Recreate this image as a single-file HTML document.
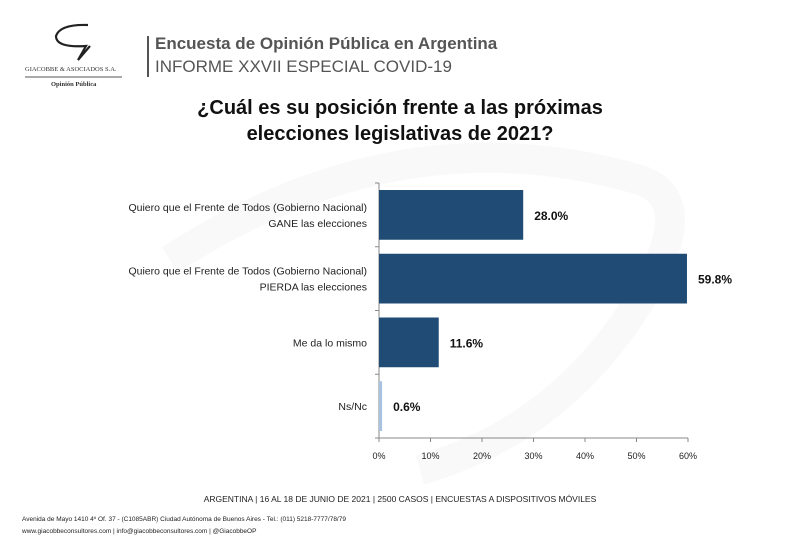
<!DOCTYPE html>
<html><head><meta charset="utf-8"><style>
body{margin:0;width:800px;height:553px;background:#fff;overflow:hidden;font-family:"Liberation Sans",sans-serif;position:relative}
.t{position:absolute;white-space:nowrap}
</style></head><body>
<svg width="800" height="553" style="position:absolute;left:0;top:0">
<path d="M170 260 Q400 110 640 180 Q700 200 640 300 Q560 430 420 470" fill="none" stroke="#f9f9f9" stroke-width="30"/>
</svg>
<svg width="130" height="100" style="position:absolute;left:20px;top:18px">
<path d="M68 7 Q40 6 36 18 Q36 30 66 28 L58 42 L70 28" fill="none" stroke="#222" stroke-width="2.2"/>
<line x1="5" y1="59" x2="102" y2="59" stroke="#555"/>
</svg>
<div class="t" style="left:25px;top:66px;font-family:'Liberation Serif',serif;font-size:6.5px;color:#333">GIACOBBE &amp; ASOCIADOS S.A.</div>
<div class="t" style="left:51px;top:81px;font-family:'Liberation Serif',serif;font-size:6.5px;font-weight:bold;color:#333">Opinión Pública</div>
<div style="position:absolute;left:147px;top:36px;width:2px;height:41px;background:#555"></div>
<div class="t" style="left:155px;top:34px;font-size:17px;font-weight:bold;color:#555">Encuesta de Opinión Pública en Argentina</div>
<div class="t" style="left:155px;top:57px;font-size:17px;color:#555">INFORME XXVII ESPECIAL COVID-19</div>
<div class="t" style="left:190px;top:95px;width:420px;text-align:center;font-size:20px;font-weight:bold;color:#111;line-height:26px">¿Cuál es su posición frente a las próximas<br>elecciones legislativas de 2021?</div>
<svg id="chart" width="800" height="553" style="position:absolute;left:0;top:0"></svg>
<div class="t" style="left:0;top:494px;width:800px;text-align:center;font-size:8.5px;color:#222">ARGENTINA | 16 AL 18 DE JUNIO DE 2021 | 2500 CASOS | ENCUESTAS A DISPOSITIVOS MÓVILES</div>
<div class="t" style="left:22px;top:516px;font-size:6.5px;color:#222">Avenida de Mayo 1410 4º Of. 37 - (C1085ABR) Ciudad Autónoma de Buenos Aires - Tel.: (011) 5218-7777/78/79</div>
<div class="t" style="left:22px;top:528px;font-size:6.5px;color:#222">www.giacobbeconsultores.com | info@giacobbeconsultores.com | @GiacobbeOP</div>
<script>
const categories=[["Quiero que el Frente de Todos (Gobierno Nacional)","GANE las elecciones"],["Quiero que el Frente de Todos (Gobierno Nacional)","PIERDA las elecciones"],["Me da lo mismo"],["Ns/Nc"]];
const values=[28.0,59.8,11.6,0.6];
const labels=["28.0%","59.8%","11.6%","0.6%"];
const ticks=[0,10,20,30,40,50,60];
const colors=["#1f4b75","#1f4b75","#1f4b75","#a8c3df"];
(function(){
const svg=document.getElementById('chart');
const NS="http://www.w3.org/2000/svg";
const x0=379,x1=688,yTop=183,yBot=438,xmax=60;
const X=v=>x0+(v/xmax)*(x1-x0);
const band=(yBot-yTop)/categories.length;
function mk(t,a){const e=document.createElementNS(NS,t);for(const k in a)e.setAttribute(k,a[k]);svg.appendChild(e);return e;}
let ax=mk('line',{x1:x0,y1:yTop,x2:x0,y2:yBot,stroke:'#888'});


let axx=mk('line',{x1:x0,y1:yBot,x2:x1,y2:yBot,stroke:'#888'});


for(let i=0;i<=categories.length;i++){let y=yTop+i*band;mk('line',{x1:x0-4,y1:y,x2:x0,y2:y,stroke:'#888'});}
ticks.forEach(t=>{mk('line',{x1:X(t),y1:yBot,x2:X(t),y2:yBot+4,stroke:'#888'});
let tx=mk('text',{x:X(t),y:yBot+21,'text-anchor':'middle','font-size':'9','fill':'#222','font-family':'Liberation Sans'});tx.textContent=t+'%';

});
values.forEach((v,i)=>{const y=yTop+i*band+7,h=band-14,cy=yTop+i*band+band/2;
let r=mk('rect',{x:x0,y:y,width:Math.max(X(v)-x0,2),height:h,fill:colors[i]});


let l=mk('text',{x:X(v)+11,y:cy+5,'font-size':'12','font-weight':'bold','fill':'#111','font-family':'Liberation Sans'});l.textContent=labels[i];


const lines=categories[i];lines.forEach((s,j)=>{let c=mk('text',{x:x0-12,y:cy+4+(j-(lines.length-1)/2)*16,'text-anchor':'end','font-size':'10.5','fill':'#222','font-family':'Liberation Sans'});c.textContent=s;

});});
})();
</script>
</body></html>
